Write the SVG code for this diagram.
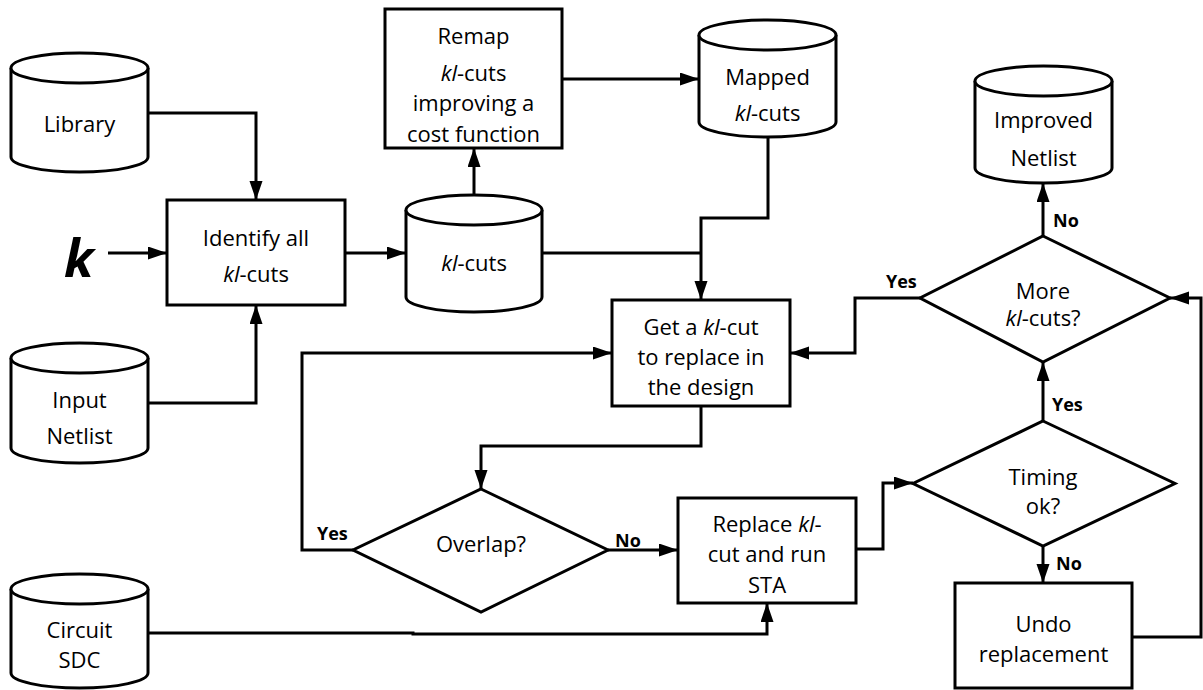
<svg xmlns="http://www.w3.org/2000/svg" width="1203" height="690" viewBox="0 0 1203 690">
  <style>
    .shape { fill: #ffffff; stroke: #000000; stroke-width: 3; stroke-linejoin: miter; }
    .wire { fill: none; stroke: #000000; stroke-width: 3; }
    .lbl { font-family: "Open Sans", "Liberation Sans", sans-serif; font-size: 22px; fill: #000000; text-anchor: middle; }
    .tag { font-family: "Open Sans", "Liberation Sans", sans-serif; font-size: 18px; font-weight: bold; fill: #000000; }
    .it { font-style: italic; }
  </style>
  <defs>
    <marker id="arrow" markerUnits="userSpaceOnUse" markerWidth="20" markerHeight="14" refX="19" refY="6.5" orient="auto">
      <path d="M0,0 L19,6.5 L0,13 z" fill="#000000"/>
    </marker>
  </defs>
  <rect width="1203" height="690" fill="#ffffff"/>

  <g id="connectors">
    <path class="wire" d="M148,113 H256 V200" marker-end="url(#arrow)"/>
    <path class="wire" d="M148,403 H256 V305" marker-end="url(#arrow)"/>
    <path class="wire" d="M108,253 H167" marker-end="url(#arrow)"/>
    <path class="wire" d="M345,253 H406" marker-end="url(#arrow)"/>
    <path class="wire" d="M474,195 V148" marker-end="url(#arrow)"/>
    <path class="wire" d="M562,79 H699" marker-end="url(#arrow)"/>
    <path class="wire" d="M768,137 V218 H701 V300" marker-end="url(#arrow)"/>
    <path class="wire" d="M542,253 H701"/>
    <path class="wire" d="M701,406 V446 H481 V489" marker-end="url(#arrow)"/>
    <path class="wire" d="M353,550 H302 V353 H612" marker-end="url(#arrow)"/>
    <path class="wire" d="M608,550 H678" marker-end="url(#arrow)"/>
    <path class="wire" d="M148,633 H413 V634 H767 V603" marker-end="url(#arrow)"/>
    <path class="wire" d="M856,549 H883 V483 H913" marker-end="url(#arrow)"/>
    <path class="wire" d="M1043,546 V583" marker-end="url(#arrow)"/>
    <path class="wire" d="M1132,637 H1201 V298 H1170" marker-end="url(#arrow)"/>
    <path class="wire" d="M1043,421 V362" marker-end="url(#arrow)"/>
    <path class="wire" d="M1043,236 V183" marker-end="url(#arrow)"/>
    <path class="wire" d="M920,298 H855 V353 H790" marker-end="url(#arrow)"/>
    <text class="tag" x="317" y="540">Yes</text>
    <text class="tag" x="615" y="547">No</text>
    <text class="tag" x="1056" y="570">No</text>
    <text class="tag" x="1052" y="411">Yes</text>
    <text class="tag" x="1053" y="227">No</text>
    <text class="tag" x="886" y="288">Yes</text>
  </g>

  <g id="k-input">
    <text x="64" y="277" font-family="'Open Sans', 'Liberation Sans', sans-serif" font-size="52" font-weight="bold" font-style="italic">k</text>
  </g>

  <g id="library">
    <path class="shape" d="M11,68 V157 A68.5,15 0 0 0 148,157 V68"/>
    <ellipse class="shape" cx="79.5" cy="68" rx="68.5" ry="15"/>
    <text class="lbl" x="79.5" y="132">Library</text>
  </g>

  <g id="input-netlist">
    <path class="shape" d="M11,358 V448 A68.5,15 0 0 0 148,448 V358"/>
    <ellipse class="shape" cx="79.5" cy="358" rx="68.5" ry="15"/>
    <text class="lbl" x="79.5" y="408">Input</text>
    <text class="lbl" x="79.5" y="444">Netlist</text>
  </g>

  <g id="circuit-sdc">
    <path class="shape" d="M11,589 V673 A68.5,15 0 0 0 148,673 V589"/>
    <ellipse class="shape" cx="79.5" cy="589" rx="68.5" ry="15"/>
    <text class="lbl" x="79.5" y="638">Circuit</text>
    <text class="lbl" x="79.5" y="668">SDC</text>
  </g>

  <g id="identify">
    <rect class="shape" x="167" y="200" width="178" height="105"/>
    <text class="lbl" x="256" y="246">Identify all</text>
    <text class="lbl" x="256" y="282"><tspan class="it">kl</tspan>-cuts</text>
  </g>

  <g id="kl-cuts-store">
    <path class="shape" d="M406,210 V297 A68,15 0 0 0 542,297 V210"/>
    <ellipse class="shape" cx="474" cy="210" rx="68" ry="15"/>
    <text class="lbl" x="474" y="271"><tspan class="it">kl</tspan>-cuts</text>
  </g>

  <g id="remap">
    <rect class="shape" x="385" y="9" width="177" height="139"/>
    <text class="lbl" x="473.5" y="44">Remap</text>
    <text class="lbl" x="473.5" y="81"><tspan class="it">kl</tspan>-cuts</text>
    <text class="lbl" x="473.5" y="111">improving a</text>
    <text class="lbl" x="473.5" y="142">cost function</text>
  </g>

  <g id="mapped">
    <path class="shape" d="M699,35 V122 A68.5,15 0 0 0 836,122 V35"/>
    <ellipse class="shape" cx="767.5" cy="35" rx="68.5" ry="15"/>
    <text class="lbl" x="767.5" y="85">Mapped</text>
    <text class="lbl" x="767.5" y="121"><tspan class="it">kl</tspan>-cuts</text>
  </g>

  <g id="get-cut">
    <rect class="shape" x="612" y="300" width="178" height="106"/>
    <text class="lbl" x="701" y="335">Get a <tspan class="it">kl</tspan>-cut</text>
    <text class="lbl" x="701" y="365">to replace in</text>
    <text class="lbl" x="701" y="395">the design</text>
  </g>

  <g id="overlap">
    <path class="shape" d="M481,489 L608,550 L481,612 L353,550 z"/>
    <text class="lbl" x="481" y="552">Overlap?</text>
  </g>

  <g id="replace">
    <rect class="shape" x="678" y="498" width="178" height="105"/>
    <text class="lbl" x="767" y="532">Replace <tspan class="it">kl</tspan>-</text>
    <text class="lbl" x="767" y="562">cut and run</text>
    <text class="lbl" x="767" y="593">STA</text>
  </g>

  <g id="timing">
    <path class="shape" d="M1043,421 L1175,483.5 L1043,546 L913,483.5 z"/>
    <text class="lbl" x="1043" y="485">Timing</text>
    <text class="lbl" x="1043" y="514">ok?</text>
  </g>

  <g id="undo">
    <rect class="shape" x="955" y="583" width="177" height="105"/>
    <text class="lbl" x="1043.5" y="632">Undo</text>
    <text class="lbl" x="1043.5" y="662">replacement</text>
  </g>

  <g id="more-cuts">
    <path class="shape" d="M1043,236 L1170,298 L1043,362 L920,298 z"/>
    <text class="lbl" x="1043" y="299">More</text>
    <text class="lbl" x="1043" y="326"><tspan class="it">kl</tspan>-cuts?</text>
  </g>

  <g id="improved">
    <path class="shape" d="M975,81 V168 A68.5,15 0 0 0 1112,168 V81"/>
    <ellipse class="shape" cx="1043.5" cy="81" rx="68.5" ry="15"/>
    <text class="lbl" x="1043.5" y="128">Improved</text>
    <text class="lbl" x="1043.5" y="166">Netlist</text>
  </g>
</svg>
